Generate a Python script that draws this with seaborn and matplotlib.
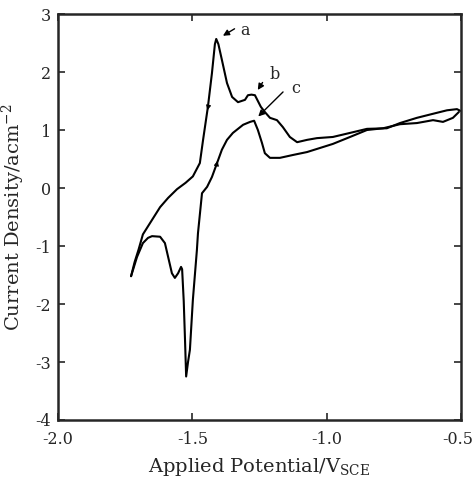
import numpy as np
import pandas as pd
import matplotlib
matplotlib.use("Agg")
import matplotlib.pyplot as plt
from matplotlib.transforms import ScaledTranslation
import seaborn as sns

# Forward branch: from the negative vertex up through the stripping peaks a and b
upper_potential = [-1.728, -1.715, -1.70, -1.684, -1.65, -1.62, -1.59, -1.557, -1.525, -1.498,
                   -1.472, -1.460, -1.442, -1.427, -1.416, -1.411, -1.403, -1.39, -1.371, -1.352,
                   -1.33, -1.304, -1.293, -1.280, -1.267, -1.256, -1.245, -1.23, -1.211, -1.185,
                   -1.163, -1.137, -1.11, -1.073, -1.036, -0.977, -0.913, -0.85, -0.776,
                   -0.727, -0.664, -0.604, -0.552, -0.515, -0.502]
upper_current = [-1.52, -1.28, -1.06, -0.80, -0.55, -0.33, -0.17, -0.02, 0.09, 0.20,
                 0.43, 0.83, 1.40, 1.98, 2.48, 2.57, 2.48, 2.21, 1.81, 1.57,
                 1.48, 1.52, 1.60, 1.61, 1.60, 1.50, 1.40, 1.31, 1.21, 1.17,
                 1.05, 0.88, 0.79, 0.83, 0.86, 0.88, 0.95, 1.02, 1.03,
                 1.12, 1.21, 1.28, 1.34, 1.36, 1.33]

# Return branch: deposition peak near -1.52 V and the anodic shoulder c
lower_potential = [-1.728, -1.706, -1.684, -1.665, -1.65, -1.62, -1.602, -1.59, -1.576, -1.565,
                   -1.553, -1.542, -1.538, -1.532, -1.527, -1.523, -1.516, -1.509, -1.498, -1.483,
                   -1.479, -1.464, -1.445, -1.427, -1.408, -1.39, -1.371, -1.349, -1.311, -1.285,
                   -1.270, -1.256, -1.241, -1.23, -1.211, -1.174, -1.125, -1.073, -1.025, -0.977,
                   -0.913, -0.85, -0.79, -0.727, -0.664, -0.604, -0.567, -0.53, -0.508]
lower_current = [-1.52, -1.19, -0.95, -0.86, -0.83, -0.84, -0.95, -1.19, -1.47, -1.55,
                 -1.47, -1.36, -1.40, -1.95, -2.65, -3.25, -3.00, -2.79, -1.93, -1.07,
                 -0.78, -0.09, 0.02, 0.19, 0.43, 0.66, 0.83, 0.95, 1.09, 1.14,
                 1.16, 1.00, 0.78, 0.60, 0.52, 0.52, 0.57, 0.62, 0.69, 0.76,
                 0.88, 1.00, 1.03, 1.10, 1.12, 1.17, 1.14, 1.21, 1.31]

x_ticks = [-2.0, -1.5, -1.0, -0.5]
x_tick_labels = ["-2.0", "-1.5", "-1.0", "-0.5"]
y_ticks = [3, 2, 1, 0, -1, -2, -3, -4]

peak_labels = ["a", "b", "c"]
peak_text_xy = [(-1.320, 2.72), (-1.214, 1.95), (-1.132, 1.72)]
peak_tail_xy = [(-1.334, 2.77), (-1.233, 1.86), (-1.155, 1.69)]
peak_head_xy = [(-1.395, 2.60), (-1.262, 1.65), (-1.262, 1.20)]

sns.set_style("ticks")
plt.rcParams["font.family"] = ["DejaVu Serif"]
plt.rcParams["mathtext.fontset"] = "dejavuserif"
plt.rcParams["axes.unicode_minus"] = False

upper = pd.DataFrame({"E": upper_potential, "j": upper_current})
lower = pd.DataFrame({"E": lower_potential, "j": lower_current})

fig = plt.figure(figsize=(4.75, 4.80), dpi=100)
ax = fig.add_axes([0.1221, 0.125, 0.8484, 0.8458])

sns.lineplot(data=upper, x="E", y="j", sort=False, estimator=None, color="black", lw=1.5, ax=ax)
sns.lineplot(data=lower, x="E", y="j", sort=False, estimator=None, color="black", lw=1.5, ax=ax)

# scan-direction arrowheads on the steep rising segments
ax.annotate("", xy=(-1.444, 1.34), xytext=(-1.440, 1.42),
            arrowprops=dict(arrowstyle="-|>", color="black", lw=0.8, mutation_scale=7))
ax.annotate("", xy=(-1.406, 0.47), xytext=(-1.410, 0.39),
            arrowprops=dict(arrowstyle="-|>", color="black", lw=0.8, mutation_scale=7))

for lab, txy, tail, head in zip(peak_labels, peak_text_xy, peak_tail_xy, peak_head_xy):
    ax.annotate("", xy=head, xytext=tail,
                arrowprops=dict(arrowstyle="-|>", color="black", lw=1.0, mutation_scale=9))
    ax.text(txy[0], txy[1], lab, fontsize=11.5, ha="left", va="center")

ax.set_xlim(-2.0, -0.5)
ax.set_ylim(-4, 3)
ax.set_xticks(x_ticks)
ax.set_xticklabels(x_tick_labels)
ax.set_yticks(y_ticks)
ax.tick_params(direction="in", length=5, width=1.2, top=True, right=True,
               labelsize=11.5)
ax.tick_params(axis="x", pad=8)
ax.tick_params(axis="y", pad=5)
for s in ax.spines.values():
    s.set_linewidth(1.8)
    s.set_visible(True)

# keep the last x tick label inside the figure edge
last = ax.get_xticklabels()[-1]
last.set_transform(last.get_transform() + ScaledTranslation(-2 / 72, 0, fig.dpi_scale_trans))

ax.set_xlabel(r"Applied Potential/V$_{\mathrm{SCE}}$", fontsize=14, labelpad=6)
ax.set_ylabel(r"Current Density/acm$^{\mathrm{-2}}$", fontsize=14, labelpad=6)

fig.savefig("out.png", dpi=100)
